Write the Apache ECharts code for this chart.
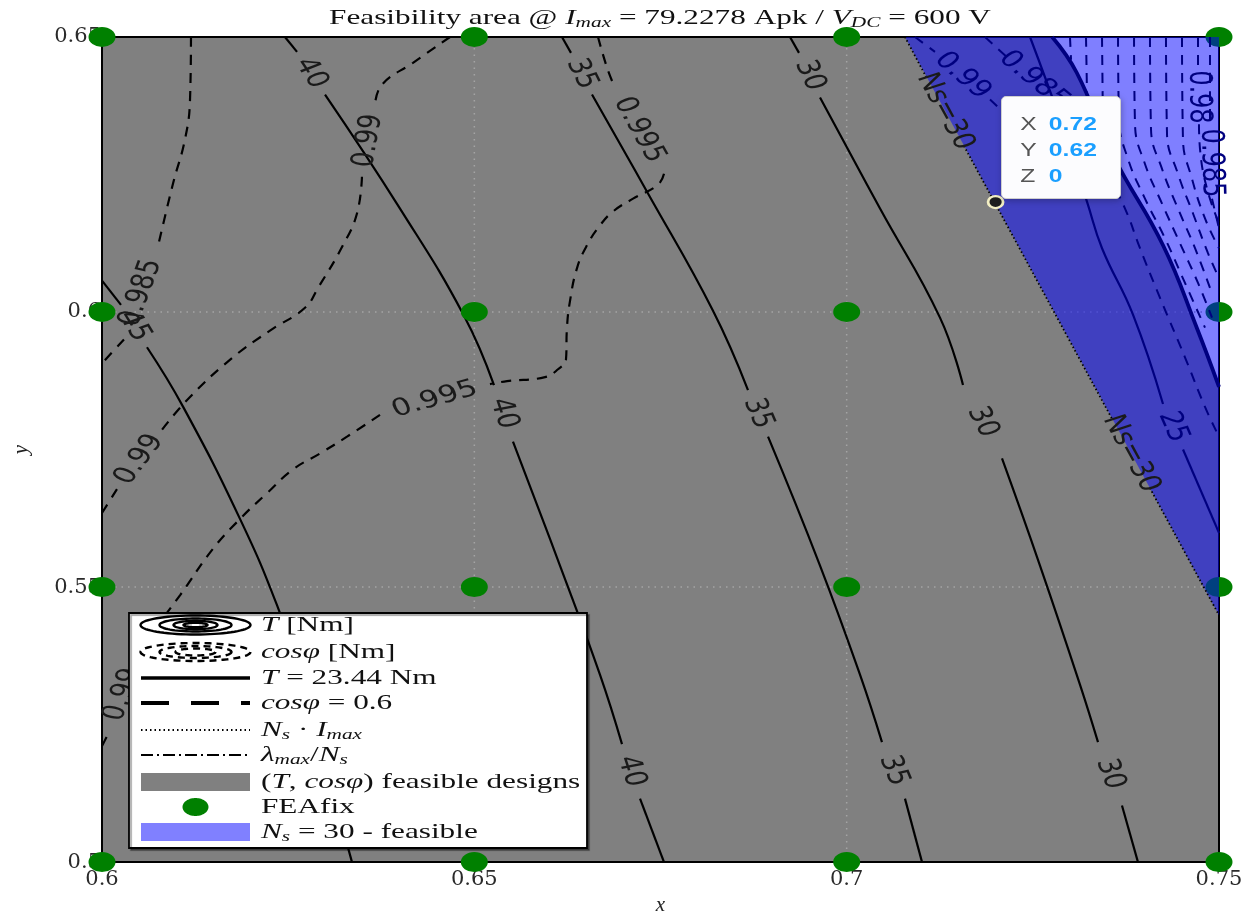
<!DOCTYPE html>
<html>
<head>
<meta charset="utf-8">
<script src="https://cdn.jsdelivr.net/npm/echarts@6/dist/echarts.min.js"></script>
<style>
  html, body { margin: 0; padding: 0; background: #ffffff; }
  #chart { width: 1254px; height: 921px; }
</style>
</head>
<body>
<div id="chart"></div>
<script>
// ---- axes ----
const xTicks = [0.6, 0.65, 0.7, 0.75];
const yTicks = [0.5, 0.55, 0.6, 0.65];
const xTickLabels = ['0.6', '0.65', '0.7', '0.75'];
const yTickLabels = ['0.5', '0.55', '0.6', '0.65'];

// ---- FEA sample grid ----
const feaX = [0.6, 0.65, 0.7, 0.75];
const feaY = [0.5, 0.55, 0.6, 0.65];

// ---- probed design (x, y, z) ----
const probe = [0.72, 0.62, 0];
const probeNames = ['X', 'Y', 'Z'];

// ---- torque contours [Nm]; each contour is a list of segments, gaps hold the level label ----
const torque45 = [
  [[0.6, 0.6057], [0.60255, 0.6013]],
  [[0.60604, 0.5936], [0.61088, 0.5828], [0.61853, 0.5624], [0.6235, 0.5467], [0.62659, 0.53408], [0.62995, 0.51785], [0.63357, 0.5]]
];
const torque40 = [
  [[0.62457, 0.65], [0.62619, 0.6473]],
  [[0.62995, 0.63954], [0.64002, 0.61881], [0.64861, 0.59934], [0.65264, 0.58672]],
  [[0.65519, 0.57644], [0.6615, 0.55391], [0.66687, 0.53408], [0.66983, 0.52145]],
  [[0.67225, 0.51154], [0.67547, 0.5]]
];
const torque35 = [
  [[0.66177, 0.65], [0.66298, 0.64712]],
  [[0.6658, 0.63954], [0.67319, 0.62187], [0.68205, 0.60024], [0.68675, 0.58582]],
  [[0.68944, 0.57734], [0.69642, 0.55391], [0.70179, 0.53408], [0.70474, 0.52181]],
  [[0.70783, 0.51154], [0.71012, 0.5]]
];
const torque30 = [
  [[0.69239, 0.65], [0.6936, 0.64712]],
  [[0.69642, 0.639], [0.70448, 0.61881], [0.71253, 0.59898], [0.71562, 0.58672]],
  [[0.72086, 0.57338], [0.72596, 0.55391], [0.73133, 0.53227], [0.73375, 0.52181]],
  [[0.73697, 0.51028], [0.73912, 0.5]]
];
const torque25 = [
  [[0.72462, 0.65], [0.72865, 0.63504], [0.73227, 0.62007], [0.73429, 0.6116], [0.73845, 0.59952], [0.74248, 0.58329]],
  [[0.74517, 0.575], [0.75, 0.55986]]
];
// T = 23.44 Nm limit (edge of the feasible area)
const torqueLimit = [
  [[0.7276, 0.65], [0.7309, 0.6435], [0.7358, 0.6284], [0.7425, 0.6121], [0.747, 0.5972], [0.75, 0.5864]]
];

// ---- power factor contours ----
const cos0985 = [
  [[0.61195, 0.65], [0.61182, 0.63864], [0.61115, 0.63143], [0.60953, 0.62332], [0.60752, 0.61196]],
  [[0.60295, 0.59501], [0.6, 0.59068]]
];
const cos099Upper = [
  [[0.64673, 0.65], [0.64176, 0.64531], [0.6376, 0.64135], [0.63666, 0.63774]],
  [[0.63491, 0.62458], [0.63424, 0.61791], [0.63236, 0.61214], [0.62901, 0.60439], [0.62726, 0.60078], [0.62256, 0.59663], [0.61759, 0.59177], [0.61182, 0.58456], [0.60806, 0.57861]],
  [[0.60201, 0.56779], [0.6, 0.56346]]
];
const cos099Lower = [
  [[0.6, 0.52109], [0.60081, 0.52326]],
  [[0.60483, 0.53768], [0.60913, 0.54129], [0.61585, 0.54399]]
];
const cos0995 = [
  [[0.66661, 0.65], [0.66782, 0.64441], [0.66876, 0.64117]],
  [[0.67547, 0.62512], [0.67466, 0.62314], [0.67131, 0.62061], [0.66862, 0.61827], [0.66687, 0.61575], [0.66513, 0.61214], [0.66379, 0.60799], [0.66285, 0.60204], [0.66244, 0.59717], [0.66231, 0.59141], [0.66124, 0.5896], [0.65949, 0.58816], [0.65439, 0.58744], [0.6521, 0.5869]],
  [[0.63733, 0.58131], [0.6329, 0.57734], [0.62927, 0.57428], [0.62565, 0.57139], [0.62216, 0.56707], [0.61853, 0.56238], [0.61491, 0.55697], [0.61047, 0.5485], [0.60645, 0.54129]]
];
// power factor contours of the Ns = 30 winding
const nsCos099 = [
  [[0.70918, 0.65], [0.71186, 0.6473]],
  [[0.71925, 0.63864], [0.72462, 0.63143], [0.72865, 0.62512]]
];
const nsCos0985 = [
  [[0.71858, 0.65], [0.72193, 0.64585]],
  [[0.72838, 0.63864], [0.732, 0.63323], [0.73469, 0.62602], [0.73738, 0.61881], [0.73939, 0.6116], [0.74208, 0.60258], [0.74543, 0.59177], [0.74812, 0.58275], [0.75, 0.57734]]
];
const nsCosA = [[[0.72999, 0.65], [0.73013, 0.64585]]];
const nsCosB = [[[0.73214, 0.65], [0.73227, 0.64008]]];
const nsCosC = [[[0.73429, 0.65], [0.73442, 0.63359]]];
const nsCosD = [[[0.73644, 0.65], [0.73657, 0.63504], [0.73778, 0.62782], [0.74006, 0.62061], [0.74275, 0.6134], [0.74543, 0.60529], [0.74812, 0.59717]]];
const nsCosE = [[[0.73859, 0.65], [0.73872, 0.63413], [0.74006, 0.62692], [0.74235, 0.61971], [0.74476, 0.6125], [0.74718, 0.60529], [0.74906, 0.59898]]];
const nsCosF = [[[0.74073, 0.65], [0.74087, 0.63323], [0.74235, 0.62602], [0.74449, 0.61881], [0.74678, 0.6116], [0.74879, 0.60439]]];
const nsCosG = [[[0.74288, 0.65], [0.74302, 0.63233], [0.74449, 0.62512], [0.74651, 0.61791], [0.74852, 0.6107], [0.75, 0.60619]]];
const nsCosH = [[[0.74503, 0.65], [0.74516, 0.63143], [0.74637, 0.62422], [0.74812, 0.61701], [0.75, 0.6116]]];
const nsCos098 = [
  [[0.74718, 0.65], [0.74718, 0.64405]],
  [[0.74731, 0.63413], [0.74745, 0.62963], [0.74839, 0.62242], [0.75, 0.61611]]
];
const nsCos0985b = [
  [[0.74879, 0.65], [0.74879, 0.63359]],
  [[0.74906, 0.62061], [0.75, 0.6152]]
];

// ---- Ns * Imax current limit for Ns = 30 ----
const nsLimit = [
  [[0.70783, 0.65], [0.71065, 0.64279]],
  [[0.71576, 0.63017], [0.73563, 0.58059]],
  [[0.74073, 0.56797], [0.75, 0.54489]]
];

// ---- legend texts ----
const legendLabels = [
  '{i|T} [Nm]',
  '{i|cosφ} [Nm]',
  '{i|T} = 23.44 Nm',
  '{i|cosφ} = 0.6',
  '{i|N}{s|s} · {i|I}{s|max}',
  '{i|λ}{s|max}/{i|N}{s|s}',
  '({i|T}, {i|cosφ}) feasible designs',
  'FEAfix',
  '{i|N}{s|s} = 30 - feasible'
];
const titleText = 'Feasibility area @ {i|I}{s|max} = 79.2278 Apk / {i|V}{s|DC} = 600 V';

// ------------------------------------------------------------------
const GLYPH_STRETCH = 1.3;     // wide glyphs of the contour labels
const SERIF_STRETCH = 1.42;    // wide glyphs of the serif texts
const INK = '#1a1a1a';
const NAVY = '#000080';

const styles = {
  T:  { color: '#000', width: 2.2, type: 'solid', z: 3, label: INK },
  C:  { color: '#000', width: 2.2, type: [10, 8], z: 3, label: INK },
  N:  { color: '#000', width: 1.8, type: [1.5, 2.5], z: 7, label: INK },
  TB: { color: NAVY, width: 2.2, type: 'solid', z: 7, label: NAVY },
  B:  { color: NAVY, width: 3.8, type: 'solid', z: 7, label: NAVY },
  CB: { color: NAVY, width: 2, type: [10, 8], z: 7, label: NAVY }
};

const contourSet = [
  { segs: torque45, text: '45', kind: 'T' },
  { segs: torque40, text: '40', kind: 'T' },
  { segs: torque35, text: '35', kind: 'T' },
  { segs: torque30, text: '30', kind: 'T' },
  { segs: cos0985, text: '0.985', kind: 'C' },
  { segs: cos099Upper, text: '0.99', kind: 'C' },
  { segs: cos099Lower, text: '0.99', kind: 'C' },
  { segs: cos0995, text: '0.995', kind: 'C' },
  { segs: torque25, text: '25', kind: 'TB' },
  { segs: nsCos099, text: '0.99', kind: 'CB' },
  { segs: nsCos0985, text: '0.985', kind: 'CB' },
  { segs: nsCosA, text: '', kind: 'CB' },
  { segs: nsCosB, text: '', kind: 'CB' },
  { segs: nsCosC, text: '', kind: 'CB' },
  { segs: nsCosD, text: '', kind: 'CB' },
  { segs: nsCosE, text: '', kind: 'CB' },
  { segs: nsCosF, text: '', kind: 'CB' },
  { segs: nsCosG, text: '', kind: 'CB' },
  { segs: nsCosH, text: '', kind: 'CB' },
  { segs: nsCos098, text: '0.98', kind: 'CB' },
  { segs: nsCos0985b, text: '0.985', kind: 'CB' },
  { segs: torqueLimit, text: '', kind: 'B' },
  { segs: nsLimit, text: 'Ns=30', kind: 'N' }
];

const xMin = xTicks[0], xMax = xTicks[xTicks.length - 1];
const yMin = yTicks[0], yMax = yTicks[yTicks.length - 1];

function tickText(list, labels, v) {
  const i = list.findIndex(t => Math.abs(t - v) < 1e-9);
  return i < 0 ? '' : labels[i];
}

// filled areas
const limitEdge = torqueLimit[0];
const feasibleArea = [[xMin, yMin], [xMax, yMin]]
  .concat(limitEdge.slice().reverse())
  .concat([[xMin, yMax]]);
const nsFirst = nsLimit[0][0];
const nsLast = nsLimit[nsLimit.length - 1][nsLimit[nsLimit.length - 1].length - 1];
const nsArea = [nsFirst, [xMax, yMax], nsLast];

function polygonSeries(pts, fill, z) {
  return {
    type: 'custom', z: z, silent: true, data: pts, encode: { x: 0, y: 1 },
    renderItem: function (params, api) {
      if (params.dataIndex !== 0) return null;
      return { type: 'polygon', shape: { points: pts.map(p => api.coord(p)) }, style: { fill: fill } };
    }
  };
}

const series = [];
series.push(polygonSeries(feasibleArea, '#808080', 1));

// dotted grid lines at the inner ticks
series.push({
  type: 'custom', z: 2, silent: true,
  data: xTicks.slice(1, -1).map(v => [v, yMin]),
  renderItem: function (params, api) {
    const a = api.coord([api.value(0), yMin]);
    const b = api.coord([api.value(0), yMax]);
    return { type: 'line', shape: { x1: a[0], y1: a[1], x2: b[0], y2: b[1] },
      style: { stroke: '#a4a4a4', lineWidth: 1.5, lineDash: [1.5, 5] } };
  }
});
series.push({
  type: 'custom', z: 2, silent: true,
  data: yTicks.slice(1, -1).map(v => [xMin, v]),
  renderItem: function (params, api) {
    const a = api.coord([xMin, api.value(1)]);
    const b = api.coord([xMax, api.value(1)]);
    return { type: 'line', shape: { x1: a[0], y1: a[1], x2: b[0], y2: b[1] },
      style: { stroke: '#a4a4a4', lineWidth: 1.5, lineDash: [1.5, 5] } };
  }
});

// contour lines
contourSet.forEach(c => {
  const st = styles[c.kind];
  c.segs.forEach(seg => {
    series.push({
      type: 'line', data: seg, smooth: 0.45, symbol: 'none', silent: true, z: st.z,
      lineStyle: { color: st.color, width: st.width, type: st.type }
    });
  });
});

// FEA points
const feaPoints = [];
feaX.forEach(x => feaY.forEach(y => feaPoints.push([x, y])));
series.push({
  type: 'scatter', data: feaPoints, symbol: 'circle', symbolSize: [27, 20], z: 5,
  clip: false, silent: true, itemStyle: { color: '#008000', opacity: 1 }
});

// Ns = 30 feasible region (semi-transparent)
series.push(polygonSeries(nsArea, 'rgba(0,0,255,0.5)', 6));

// contour level labels, centred in the gaps between segments
const labelData = [];
contourSet.forEach((c, k) => {
  if (!c.text) return;
  for (let i = 0; i < c.segs.length - 1; i++) {
    const a = c.segs[i][c.segs[i].length - 1];
    const b = c.segs[i + 1][0];
    labelData.push([a[0], a[1], b[0], b[1], k]);
  }
});
series.push({
  type: 'custom', z: 8, silent: true, data: labelData, encode: { x: [0, 2], y: [1, 3] },
  renderItem: function (params, api) {
    const p1 = api.coord([api.value(0), api.value(1)]);
    const p2 = api.coord([api.value(2), api.value(3)]);
    const c = contourSet[api.value(4)];
    let th = Math.atan2(-(p2[1] - p1[1]), (p2[0] - p1[0]) / GLYPH_STRETCH);
    if (th > Math.PI / 2 + 1e-6) th -= Math.PI;
    if (th < -Math.PI / 2 - 1e-6) th += Math.PI;
    return {
      type: 'group', x: (p1[0] + p2[0]) / 2, y: (p1[1] + p2[1]) / 2, scaleX: GLYPH_STRETCH,
      children: [{
        type: 'text', rotation: th,
        style: { text: c.text, fill: styles[c.kind].label, fontFamily: 'DejaVu Sans', fontSize: 24,
          align: 'center', verticalAlign: 'middle' }
      }]
    };
  }
});

// probed design
series.push({
  type: 'scatter', data: [probe], symbol: 'circle', symbolSize: [15, 12], z: 9, clip: false,
  itemStyle: { color: '#1e1e1e', borderColor: '#f3efc4', borderWidth: 2.5, opacity: 1 },
  emphasis: { disabled: true }
});
const probeIndex = series.length - 1;

// ---- legend drawing ----
const rowY = [625, 652, 678, 703, 730, 755, 782, 807, 832];
const iconL = 141, iconR = 250, iconC = 195.5, textX = 261;

function ellipsePoints(cx, cy, rx, ry) {
  const pts = [];
  for (let i = 0; i < 72; i++) {
    const a = i / 72 * Math.PI * 2;
    pts.push([cx + rx * Math.cos(a), cy + ry * Math.sin(a)]);
  }
  return pts;
}

const serifRich = {
  i: { fontFamily: 'Liberation Serif', fontStyle: 'italic', fontSize: 22, lineHeight: 26, fill: '#111' },
  s: { fontFamily: 'Liberation Serif', fontStyle: 'italic', fontSize: 15, lineHeight: 15, verticalAlign: 'bottom', fill: '#111' }
};

const legendEls = [];
legendEls.push({
  type: 'rect', z: 100, shape: { x: 129, y: 613, width: 458, height: 235 },
  style: { fill: '#ffffff', stroke: '#000', lineWidth: 1.8, shadowColor: 'rgba(0,0,0,0.35)', shadowOffsetX: 2, shadowOffsetY: 2, shadowBlur: 1 }
});
[[55, 9.5], [36, 6.5], [22, 4.2], [12, 2.2]].forEach(r => legendEls.push({
  type: 'polygon', z: 101, shape: { points: ellipsePoints(iconC, rowY[0], r[0], r[1]) },
  style: { fill: 'none', stroke: '#000', lineWidth: 2.4 }
}));
[[55, 9], [36, 6], [20, 3.5]].forEach(r => legendEls.push({
  type: 'polygon', z: 101, shape: { points: ellipsePoints(iconC, rowY[1], r[0], r[1]) },
  style: { fill: 'none', stroke: '#000', lineWidth: 2.4, lineDash: [7, 5] }
}));
legendEls.push({ type: 'line', z: 101, shape: { x1: iconL, y1: rowY[2], x2: iconR, y2: rowY[2] }, style: { stroke: '#000', lineWidth: 3.5 } });
legendEls.push({ type: 'line', z: 101, shape: { x1: iconL, y1: rowY[3], x2: iconR, y2: rowY[3] }, style: { stroke: '#000', lineWidth: 4, lineDash: [28, 22] } });
legendEls.push({ type: 'line', z: 101, shape: { x1: iconL, y1: rowY[4], x2: iconR, y2: rowY[4] }, style: { stroke: '#000', lineWidth: 1.8, lineDash: [1.5, 3] } });
legendEls.push({ type: 'line', z: 101, shape: { x1: iconL, y1: rowY[5], x2: iconR, y2: rowY[5] }, style: { stroke: '#000', lineWidth: 2, lineDash: [12, 4, 2, 4] } });
legendEls.push({ type: 'rect', z: 101, shape: { x: iconL, y: rowY[6] - 9, width: iconR - iconL, height: 18 }, style: { fill: '#808080' } });
legendEls.push({ type: 'polygon', z: 101, shape: { points: ellipsePoints(iconC, rowY[7], 13, 9) }, style: { fill: '#008000' } });
legendEls.push({ type: 'rect', z: 101, shape: { x: iconL, y: rowY[8] - 9, width: iconR - iconL, height: 18 }, style: { fill: '#8080ff' } });
legendLabels.forEach((t, i) => legendEls.push({
  type: 'group', z: 101, x: textX, y: rowY[i], scaleX: SERIF_STRETCH,
  children: [{
    type: 'text', z: 101,
    style: { text: t, rich: serifRich, fontFamily: 'Liberation Serif', fontSize: 22, lineHeight: 26,
      fill: '#111', align: 'left', verticalAlign: 'middle' }
  }]
}));

const titleEl = {
  type: 'group', z: 100, x: 660, y: 18, scaleX: SERIF_STRETCH,
  children: [{
    type: 'text',
    style: { text: titleText, rich: serifRich, fontFamily: 'Liberation Serif', fontSize: 22, lineHeight: 26,
      fill: '#111', align: 'center', verticalAlign: 'middle' }
  }]
};

const tickFont = { fontFamily: 'DejaVu Serif', fontSize: 21, color: '#2a2a2a' };
const frameLine = { show: true, onZero: false, lineStyle: { color: '#000', width: 2 } };

const option = {
  animation: false,
  backgroundColor: '#ffffff',
  grid: { left: 102, right: 35, top: 37, bottom: 52, show: false },
  xAxis: [
    {
      type: 'value', min: xMin, max: xMax, interval: 0.05, position: 'bottom', z: 4,
      axisLine: frameLine, axisTick: { show: false }, splitLine: { show: false },
      axisLabel: Object.assign({ margin: 7, formatter: v => tickText(xTicks, xTickLabels, v) }, tickFont),
      name: 'x', nameLocation: 'middle', nameGap: 30,
      nameTextStyle: { fontFamily: 'Liberation Serif', fontStyle: 'italic', fontSize: 21, color: '#222' }
    },
    {
      type: 'value', min: xMin, max: xMax, interval: 0.05, position: 'top', z: 4,
      axisLine: frameLine, axisTick: { show: false }, splitLine: { show: false }, axisLabel: { show: false }
    }
  ],
  yAxis: [
    {
      type: 'value', min: yMin, max: yMax, interval: 0.05, position: 'left', z: 4,
      axisLine: frameLine, axisTick: { show: false }, splitLine: { show: false },
      axisLabel: Object.assign({ margin: 1, formatter: v => tickText(yTicks, yTickLabels, v) }, tickFont),
      name: 'y', nameLocation: 'middle', nameGap: 70, nameRotate: 90,
      nameTextStyle: { fontFamily: 'Liberation Serif', fontStyle: 'italic', fontSize: 21, color: '#222' }
    },
    {
      type: 'value', min: yMin, max: yMax, interval: 0.05, position: 'right', z: 4,
      axisLine: frameLine, axisTick: { show: false }, splitLine: { show: false }, axisLabel: { show: false }
    }
  ],
  tooltip: {
    trigger: 'item', triggerOn: 'none', alwaysShowContent: true, transitionDuration: 0,
    backgroundColor: '#fcfcfe', borderColor: '#cfcfcf', borderWidth: 1, padding: 0,
    extraCssText: 'width:120px;height:103px;box-sizing:border-box;border-radius:5px;box-shadow:1px 2px 6px rgba(0,0,0,0.25);',
    position: function (pt) { return [pt[0] + 5, pt[1] - 106]; },
    formatter: function (p) {
      const v = p.value;
      const rows = probeNames.map((n, i) =>
        '<div style="height:26px;line-height:26px;white-space:nowrap">' +
        '<span style="display:inline-block;width:22px;color:#555">' + n + '</span>' +
        '<span style="color:#1a9fff;font-weight:bold">' + v[i] + '</span></div>').join('');
      return '<div style="padding:14px 0 0 14px;transform:scaleX(1.3);transform-origin:0 0;' +
        'font-family:\'Liberation Sans\',Arial,sans-serif;font-size:19px">' + rows + '</div>';
    }
  },
  graphic: { elements: [titleEl].concat(legendEls) },
  series: series
};

const chart = echarts.init(document.getElementById('chart'));
chart.setOption(option);
chart.dispatchAction({ type: 'showTip', seriesIndex: probeIndex, dataIndex: 0 });
</script>
</body>
</html>
